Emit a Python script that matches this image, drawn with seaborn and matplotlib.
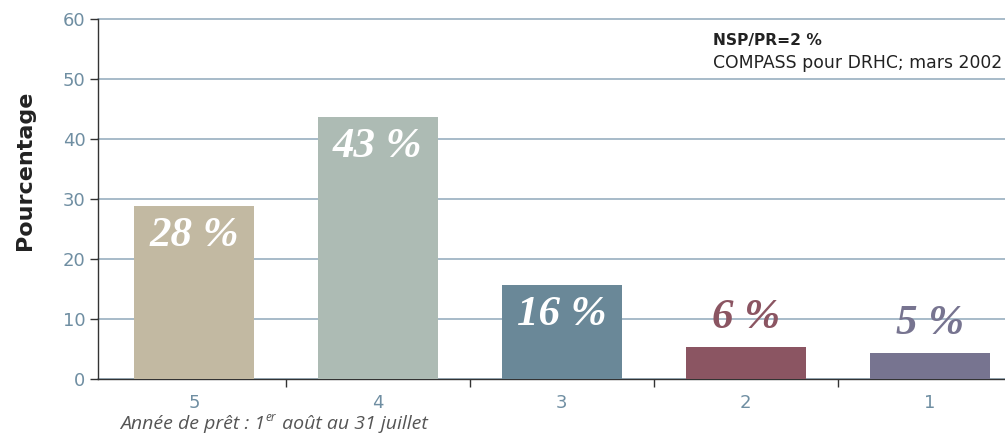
import matplotlib
matplotlib.use("Agg")
import matplotlib.pyplot as plt
import seaborn as sns
import pandas as pd
from matplotlib.ticker import FixedLocator

categories = ["5", "4", "3", "2", "1"]
values = [28.8, 43.7, 15.7, 5.3, 4.3]
labels = ["28 %", "43 %", "16 %", "6 %", "5 %"]
colors = ["#c2b9a2", "#adbbb4", "#6a8898", "#8b5562", "#777490"]
label_colors = ["white", "white", "white", "#8b5562", "#777490"]
label_inside = [True, True, True, False, False]
yticks = [0, 10, 20, 30, 40, 50, 60]

sns.set_theme(style="white")
plt.rcParams['font.family'] = ['DejaVu Sans']

df = pd.DataFrame({"cat": categories, "val": values})

fig = plt.figure(figsize=(10.05, 4.45), dpi=100)
ax = fig.add_axes([0.0975, 0.1483, 0.9025, 0.8087])

sns.barplot(data=df, x="cat", y="val", hue="cat", order=categories,
            hue_order=categories, palette=colors, width=0.653,
            saturation=1, legend=False, ax=ax, zorder=3,
            linewidth=0, edgecolor="none")

ax.set_xlim(-0.522, 4.41)
ax.set_ylim(0, 60)
ax.set_yticks(yticks)
ax.yaxis.grid(True, color="#8fa8bb", linewidth=1.1, zorder=0)
ax.set_axisbelow(True)
for gl in ax.get_ygridlines():
    gl.set_clip_on(False)

for s in ["top", "right"]:
    ax.spines[s].set_visible(False)
for s in ["left", "bottom"]:
    ax.spines[s].set_color("#333333")
    ax.spines[s].set_linewidth(1.0)

ax.tick_params(axis="y", which="major", length=6, width=1, color="#333333",
               labelcolor="#6f8ea2", labelsize=13, left=True, direction="out", pad=3)
ax.tick_params(axis="x", which="major", length=0, labelcolor="#6f8ea2",
               labelsize=13, pad=11)
ax.xaxis.set_minor_locator(FixedLocator([0.5, 1.5, 2.5, 3.5]))
ax.tick_params(axis="x", which="minor", length=6, width=1, color="#333333",
               bottom=True, direction="out")

ax.set_xlabel("")
ax.set_ylabel("")
fig.text(0.025, 1 - 170 / 445, "Pourcentage", rotation=90, fontsize=16,
         fontweight="bold", color="#222222", ha="center", va="center")

for i, (v, lab, c, inside) in enumerate(zip(values, labels, label_colors, label_inside)):
    y = v - 5.0 if inside else v + 4.8
    ax.text(i, y, lab, ha="center", va="center", fontsize=31, color=c,
            family="Liberation Serif", style="italic", fontweight="bold", zorder=5)

ax.text(0.678, 0.942, "NSP/PR=2 %", transform=ax.transAxes, fontsize=11.2,
        fontweight="bold", color="#222222", ha="left", va="center")
ax.text(0.678, 0.878, "COMPASS pour DRHC; mars 2002", transform=ax.transAxes,
        fontsize=12.4, color="#222222", ha="left", va="center")

# footnote with superscript "er"
foot_kw = dict(family="Open Sans", style="italic", color="#555555")
base_y = 0.036
t1 = fig.text(0.119, base_y, "Année de prêt : 1", fontsize=14, ha="left",
              va="baseline", **foot_kw)
fig.canvas.draw()
r = fig.canvas.get_renderer()
bb = t1.get_window_extent(r)
x1 = bb.x1 / fig.bbox.width
t2 = fig.text(x1 + 0.001, base_y + 0.018, "er", fontsize=8.5, ha="left",
              va="baseline", **foot_kw)
fig.canvas.draw()
bb2 = t2.get_window_extent(r)
x2 = bb2.x1 / fig.bbox.width
fig.text(x2 + 0.001, base_y, " août au 31 juillet", fontsize=14, ha="left",
         va="baseline", **foot_kw)

fig.savefig("out.png", dpi=100)
